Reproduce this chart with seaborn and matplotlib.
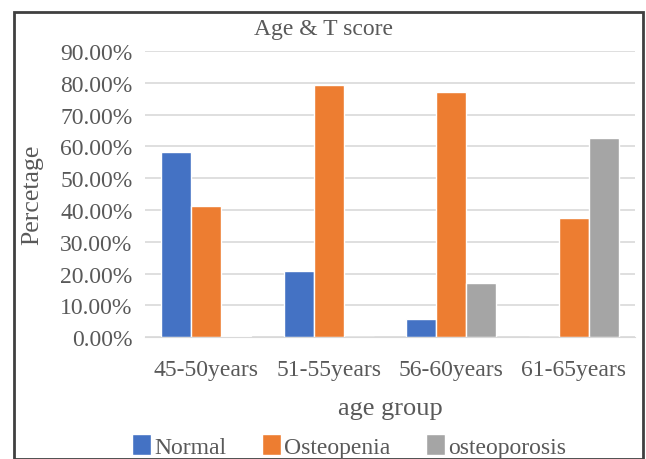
import numpy as np
import pandas as pd
import seaborn as sns
import matplotlib.pyplot as plt
from matplotlib.patches import Rectangle
from matplotlib.ticker import PercentFormatter

age_groups = ['45-50years', '51-55years', '56-60years', '61-65years']
normal = [0.583, 0.208, 0.057, 0.0]
osteopenia = [0.412, 0.792, 0.771, 0.375]
osteoporosis = [0.005, 0.0, 0.171, 0.625]
series = ['Normal', 'Osteopenia', 'osteoporosis']
colors = ['#4472C4', '#ED7D31', '#A5A5A5']

df = pd.DataFrame({'age group': age_groups * 3,
                   'value': normal + osteopenia + osteoporosis,
                   'T score': [s for s in series for _ in age_groups]})

sns.set_style('white')
plt.rcParams['font.family'] = ['Liberation Serif', 'DejaVu Serif']

fig = plt.figure(figsize=(6.46, 4.6), dpi=100)
ax = fig.add_axes([0.2245, 0.265, 0.7585, 0.622])
sns.barplot(data=df, x='age group', y='value', hue='T score', palette=colors,
            width=0.735, saturation=1, ax=ax, legend=True)

ax.set_ylim(0, 0.9)
ax.set_yticks(np.arange(0, 0.91, 0.1))
ax.yaxis.set_major_formatter(PercentFormatter(1.0, decimals=2))
ax.grid(axis='y', color='#D9D9D9', linewidth=1.2)
ax.set_axisbelow(True)
for s in ['top', 'right', 'left']:
    ax.spines[s].set_visible(False)
ax.spines['bottom'].set_color('#D9D9D9')
ax.tick_params(axis='both', length=0, labelsize=17, colors='#595959')
ax.tick_params(axis='y', pad=9)
ax.tick_params(axis='x', pad=16)
ax.set_ylabel('Percetage', fontsize=18.5, color='#595959', va='center')
ax.yaxis.set_label_coords(32 / 646, 0.5 * (0.265 + 0.887), transform=fig.transFigure)
ax.set_xlabel('age group', fontsize=19, color='#595959', labelpad=12)
fig.text(0.5, 1 - 29 / 460, 'Age & T score', ha='center', va='center', fontsize=17, color='#595959')

handles, labels = ax.get_legend_handles_labels()
ax.get_legend().remove()
fig.legend(handles, labels, loc='center', bbox_to_anchor=(349 / 646, 1 - 447 / 460), ncol=3,
           frameon=False, fontsize=17, handlelength=0.8, handleheight=0.95, handletextpad=0.15,
           columnspacing=1.5, labelcolor='#595959', borderpad=0)

fig.patches.append(Rectangle((14 / 646, 0), 629 / 646, 447 / 460,
                             transform=fig.transFigure, fill=False,
                             edgecolor='#404040', linewidth=2))

fig.savefig('out.png', dpi=100)
